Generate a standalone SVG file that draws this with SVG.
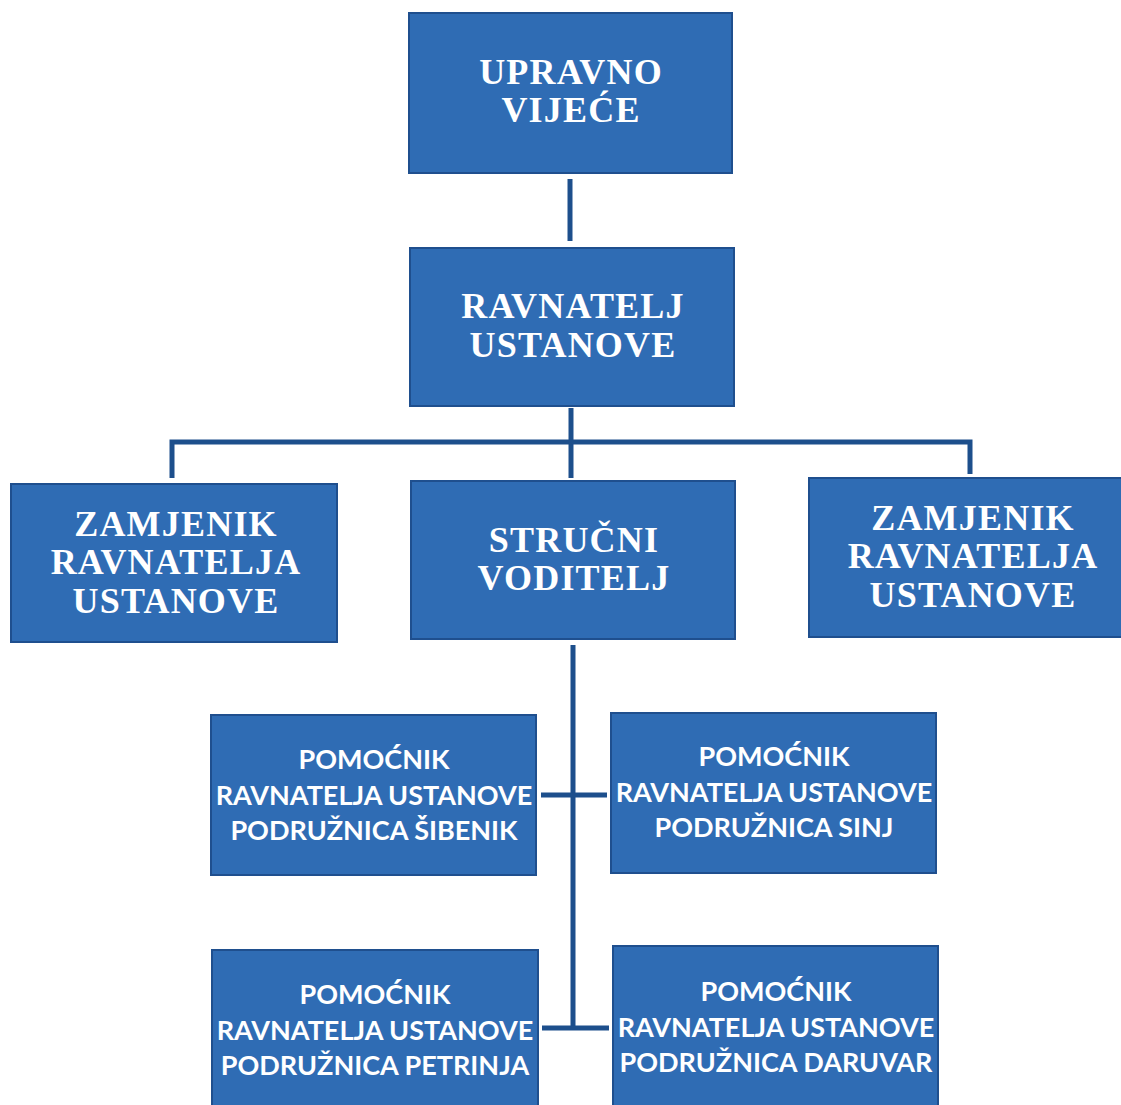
<svg xmlns="http://www.w3.org/2000/svg" width="1121" height="1105" viewBox="0 0 1121 1105">
<style>
.box{fill:#2f6cb4;stroke:#1f4f8e;stroke-width:2}
.ser{font-family:"Liberation Serif","Times New Roman",serif;font-weight:bold;font-size:36px;letter-spacing:1.2px;fill:#fff;text-anchor:middle}
.san{font-family:Lato,"Liberation Sans",sans-serif;font-weight:bold;font-size:27px;fill:#fff;text-anchor:middle}
.ln{stroke:#1d4f8c;stroke-width:5;fill:none}
</style>
<rect width="1121" height="1105" fill="#fff"/>
<g id="connectors">
<line class="ln" x1="570" y1="179" x2="570" y2="241"/>
<line class="ln" x1="571" y1="408" x2="571" y2="478"/>
<polyline class="ln" points="172,478 172,442 970,442 970,474"/>
<line class="ln" x1="573" y1="645" x2="573" y2="1030"/>
<line class="ln" stroke-width="4" x1="541" y1="795" x2="607" y2="795"/>
<line class="ln" stroke-width="4" x1="542" y1="1028" x2="609" y2="1028"/>
</g>
<g id="upravno">
<rect class="box" x="409" y="13" width="323" height="160"/>
<text class="ser" x="571" y="84">UPRAVNO</text>
<text class="ser" x="571" y="122">VIJEĆE</text>
</g>
<g id="ravnatelj">
<rect class="box" x="410" y="248" width="324" height="158"/>
<text class="ser" x="573" y="318">RAVNATELJ</text>
<text class="ser" x="573" y="357">USTANOVE</text>
</g>
<g id="zamjenik-left">
<rect class="box" x="11" y="484" width="326" height="158"/>
<text class="ser" x="176" y="536">ZAMJENIK</text>
<text class="ser" x="176" y="574">RAVNATELJA</text>
<text class="ser" x="176" y="613">USTANOVE</text>
</g>
<g id="strucni">
<rect class="box" x="411" y="481" width="324" height="158"/>
<text class="ser" x="574" y="552">STRUČNI</text>
<text class="ser" x="574" y="590">VODITELJ</text>
</g>
<g id="zamjenik-right">
<rect class="box" x="809" y="478" width="330" height="159"/>
<text class="ser" x="973" y="530">ZAMJENIK</text>
<text class="ser" x="973" y="568">RAVNATELJA</text>
<text class="ser" x="973" y="607">USTANOVE</text>
</g>
<g id="sibenik">
<rect class="box" x="211" y="715" width="325" height="160"/>
<text class="san" x="374" y="769">POMOĆNIK</text>
<text class="san" x="374" y="805">RAVNATELJA USTANOVE</text>
<text class="san" x="374" y="840">PODRUŽNICA ŠIBENIK</text>
</g>
<g id="sinj">
<rect class="box" x="611" y="713" width="325" height="160"/>
<text class="san" x="774" y="766">POMOĆNIK</text>
<text class="san" x="774" y="802">RAVNATELJA USTANOVE</text>
<text class="san" x="774" y="837">PODRUŽNICA SINJ</text>
</g>
<g id="petrinja">
<rect class="box" x="212" y="950" width="326" height="160"/>
<text class="san" x="375" y="1004">POMOĆNIK</text>
<text class="san" x="375" y="1040">RAVNATELJA USTANOVE</text>
<text class="san" x="375" y="1075">PODRUŽNICA PETRINJA</text>
</g>
<g id="daruvar">
<rect class="box" x="613" y="946" width="325" height="164"/>
<text class="san" x="776" y="1001">POMOĆNIK</text>
<text class="san" x="776" y="1037">RAVNATELJA USTANOVE</text>
<text class="san" x="776" y="1072">PODRUŽNICA DARUVAR</text>
</g>
</svg>
